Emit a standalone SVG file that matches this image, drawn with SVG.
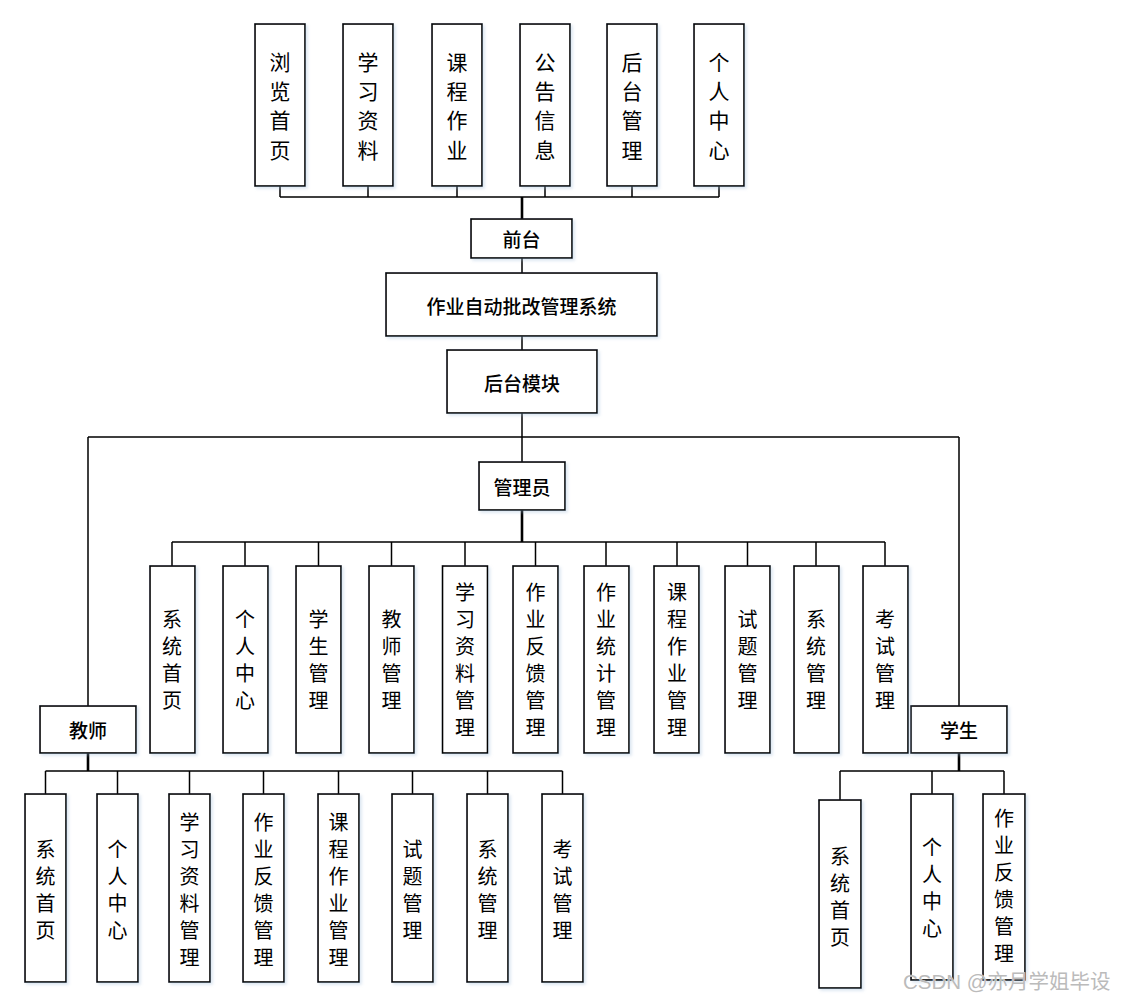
<svg xmlns="http://www.w3.org/2000/svg" width="1121" height="997" viewBox="0 0 1121 997">
<defs>
<filter id="sh" x="-20%" y="-20%" width="140%" height="140%">
<feDropShadow dx="2" dy="2" stdDeviation="1.5" flood-color="#9bb8d8" flood-opacity="0.35"/>
</filter>
<style>
.b{fill:#fff;stroke:#000;stroke-width:1.6;filter:url(#sh)}
.c{fill:none;stroke:#000;stroke-width:1.5}
.t{stroke:#000;stroke-width:2.6;fill:none}
.h{font-family:"Noto Sans CJK SC","Microsoft YaHei",sans-serif;font-size:19px;font-weight:500;fill:#000;text-anchor:middle;dominant-baseline:central}
.v{font-family:"Noto Sans CJK SC",sans-serif;font-size:20px;fill:#000;text-anchor:middle;dominant-baseline:central}
.vt{font-family:"Noto Sans CJK SC",sans-serif;font-size:21px;fill:#000;text-anchor:middle;dominant-baseline:central}
.wm{font-family:"Liberation Sans","Noto Sans CJK SC",sans-serif;font-size:20.5px;fill:#bbb;stroke:#fff;stroke-width:0.6;paint-order:stroke;text-anchor:start;dominant-baseline:central}
</style>
</defs>
<rect width="1121" height="997" fill="#fff"/>

<g id="connectors">
<path class="c" d="M280 186V197M368 186V197M457 186V197M545 186V197M632 186V197M719 186V197M280 197H719"/>
<path class="t" d="M522 197V219"/>
<path class="c" d="M522 258V273M522 336V350M522 413V462"/>
<path class="c" d="M88 437H959M88 437V706M959 437V706"/>
<path class="t" d="M522 510V542"/>
<path class="c" d="M172 542H885M172 542V566M245 542V566M318.5 542V566M391.5 542V566M465 542V566M535.5 542V566M606 542V566M677 542V566M747.5 542V566M816 542V566M885 542V566"/>
<path class="t" d="M88 753V771"/>
<path class="c" d="M45.5 771H562.5M45.5 771V794M117.5 771V794M189.5 771V794M263.5 771V794M338.5 771V794M412.5 771V794M487.5 771V794M562.5 771V794"/>
<path class="t" d="M959 753V771"/>
<path class="c" d="M840 771H1004M840 771V800M932 771V794M1004 771V794"/>
</g>

<g id="browse"><rect class="b" x="255" y="24" width="50" height="162"/><text class="vt"><tspan x="280" y="60.5">浏</tspan><tspan x="280" y="89.8">览</tspan><tspan x="280" y="119.2">首</tspan><tspan x="280" y="148.5">页</tspan></text></g>
<g id="study"><rect class="b" x="343" y="24" width="50" height="162"/><text class="vt"><tspan x="368" y="60.5">学</tspan><tspan x="368" y="89.8">习</tspan><tspan x="368" y="119.2">资</tspan><tspan x="368" y="148.5">料</tspan></text></g>
<g id="course"><rect class="b" x="432" y="24" width="50" height="162"/><text class="vt"><tspan x="457" y="60.5">课</tspan><tspan x="457" y="89.8">程</tspan><tspan x="457" y="119.2">作</tspan><tspan x="457" y="148.5">业</tspan></text></g>
<g id="notice"><rect class="b" x="520" y="24" width="50" height="162"/><text class="vt"><tspan x="545" y="60.5">公</tspan><tspan x="545" y="89.8">告</tspan><tspan x="545" y="119.2">信</tspan><tspan x="545" y="148.5">息</tspan></text></g>
<g id="backend"><rect class="b" x="607" y="24" width="50" height="162"/><text class="vt"><tspan x="632" y="60.5">后</tspan><tspan x="632" y="89.8">台</tspan><tspan x="632" y="119.2">管</tspan><tspan x="632" y="148.5">理</tspan></text></g>
<g id="personal"><rect class="b" x="694" y="24" width="50" height="162"/><text class="vt"><tspan x="719" y="60.5">个</tspan><tspan x="719" y="89.8">人</tspan><tspan x="719" y="119.2">中</tspan><tspan x="719" y="148.5">心</tspan></text></g>

<g id="front"><rect class="b" x="471" y="219" width="101" height="39"/><text class="h" x="521.5" y="238.5">前台</text></g>
<g id="system"><rect class="b" x="386" y="273" width="271" height="63"/><text class="h" x="521.5" y="305">作业自动批改管理系统</text></g>
<g id="backmodule"><rect class="b" x="447" y="350" width="150" height="63"/><text class="h" x="522" y="382">后台模块</text></g>
<g id="admin"><rect class="b" x="479" y="462" width="86" height="48"/><text class="h" x="522" y="486">管理员</text></g>
<g id="teacher"><rect class="b" x="40" y="706" width="96" height="47"/><text class="h" x="88" y="729.5">教师</text></g>
<g id="student"><rect class="b" x="911" y="706" width="96" height="47"/><text class="h" x="959" y="729.5">学生</text></g>

<g id="a1"><rect class="b" x="150" y="566" width="45" height="187"/><text class="v"><tspan x="172" y="618">系</tspan><tspan x="172" y="645">统</tspan><tspan x="172" y="672">首</tspan><tspan x="172" y="699">页</tspan></text></g>
<g id="a2"><rect class="b" x="223" y="566" width="45" height="187"/><text class="v"><tspan x="245" y="618">个</tspan><tspan x="245" y="645">人</tspan><tspan x="245" y="672">中</tspan><tspan x="245" y="699">心</tspan></text></g>
<g id="a3"><rect class="b" x="296" y="566" width="45" height="187"/><text class="v"><tspan x="318.5" y="618">学</tspan><tspan x="318.5" y="645">生</tspan><tspan x="318.5" y="672">管</tspan><tspan x="318.5" y="699">理</tspan></text></g>
<g id="a4"><rect class="b" x="369" y="566" width="45" height="187"/><text class="v"><tspan x="391.5" y="618">教</tspan><tspan x="391.5" y="645">师</tspan><tspan x="391.5" y="672">管</tspan><tspan x="391.5" y="699">理</tspan></text></g>
<g id="a5"><rect class="b" x="442.5" y="566" width="45" height="187"/><text class="v"><tspan x="465" y="591">学</tspan><tspan x="465" y="618">习</tspan><tspan x="465" y="645">资</tspan><tspan x="465" y="672">料</tspan><tspan x="465" y="699">管</tspan><tspan x="465" y="726">理</tspan></text></g>
<g id="a6"><rect class="b" x="513" y="566" width="45" height="187"/><text class="v"><tspan x="535.5" y="591">作</tspan><tspan x="535.5" y="618">业</tspan><tspan x="535.5" y="645">反</tspan><tspan x="535.5" y="672">馈</tspan><tspan x="535.5" y="699">管</tspan><tspan x="535.5" y="726">理</tspan></text></g>
<g id="a7"><rect class="b" x="584" y="566" width="45" height="187"/><text class="v"><tspan x="606" y="591">作</tspan><tspan x="606" y="618">业</tspan><tspan x="606" y="645">统</tspan><tspan x="606" y="672">计</tspan><tspan x="606" y="699">管</tspan><tspan x="606" y="726">理</tspan></text></g>
<g id="a8"><rect class="b" x="654" y="566" width="45" height="187"/><text class="v"><tspan x="677" y="591">课</tspan><tspan x="677" y="618">程</tspan><tspan x="677" y="645">作</tspan><tspan x="677" y="672">业</tspan><tspan x="677" y="699">管</tspan><tspan x="677" y="726">理</tspan></text></g>
<g id="a9"><rect class="b" x="725" y="566" width="45" height="187"/><text class="v"><tspan x="747.5" y="618">试</tspan><tspan x="747.5" y="645">题</tspan><tspan x="747.5" y="672">管</tspan><tspan x="747.5" y="699">理</tspan></text></g>
<g id="a10"><rect class="b" x="794" y="566" width="45" height="187"/><text class="v"><tspan x="816" y="618">系</tspan><tspan x="816" y="645">统</tspan><tspan x="816" y="672">管</tspan><tspan x="816" y="699">理</tspan></text></g>
<g id="a11"><rect class="b" x="863" y="566" width="45" height="187"/><text class="v"><tspan x="885" y="618">考</tspan><tspan x="885" y="645">试</tspan><tspan x="885" y="672">管</tspan><tspan x="885" y="699">理</tspan></text></g>

<g id="t1"><rect class="b" x="25" y="794" width="41" height="188"/><text class="v"><tspan x="45.5" y="847.5">系</tspan><tspan x="45.5" y="874.5">统</tspan><tspan x="45.5" y="901.5">首</tspan><tspan x="45.5" y="928.5">页</tspan></text></g>
<g id="t2"><rect class="b" x="97" y="794" width="41" height="188"/><text class="v"><tspan x="117.5" y="847.5">个</tspan><tspan x="117.5" y="874.5">人</tspan><tspan x="117.5" y="901.5">中</tspan><tspan x="117.5" y="928.5">心</tspan></text></g>
<g id="t3"><rect class="b" x="169" y="794" width="41" height="188"/><text class="v"><tspan x="189.5" y="820.5">学</tspan><tspan x="189.5" y="847.5">习</tspan><tspan x="189.5" y="874.5">资</tspan><tspan x="189.5" y="901.5">料</tspan><tspan x="189.5" y="928.5">管</tspan><tspan x="189.5" y="955.5">理</tspan></text></g>
<g id="t4"><rect class="b" x="243" y="794" width="41" height="188"/><text class="v"><tspan x="263.5" y="820.5">作</tspan><tspan x="263.5" y="847.5">业</tspan><tspan x="263.5" y="874.5">反</tspan><tspan x="263.5" y="901.5">馈</tspan><tspan x="263.5" y="928.5">管</tspan><tspan x="263.5" y="955.5">理</tspan></text></g>
<g id="t5"><rect class="b" x="318" y="794" width="41" height="188"/><text class="v"><tspan x="338.5" y="820.5">课</tspan><tspan x="338.5" y="847.5">程</tspan><tspan x="338.5" y="874.5">作</tspan><tspan x="338.5" y="901.5">业</tspan><tspan x="338.5" y="928.5">管</tspan><tspan x="338.5" y="955.5">理</tspan></text></g>
<g id="t6"><rect class="b" x="392" y="794" width="41" height="188"/><text class="v"><tspan x="412.5" y="847.5">试</tspan><tspan x="412.5" y="874.5">题</tspan><tspan x="412.5" y="901.5">管</tspan><tspan x="412.5" y="928.5">理</tspan></text></g>
<g id="t7"><rect class="b" x="467" y="794" width="41" height="188"/><text class="v"><tspan x="487.5" y="847.5">系</tspan><tspan x="487.5" y="874.5">统</tspan><tspan x="487.5" y="901.5">管</tspan><tspan x="487.5" y="928.5">理</tspan></text></g>
<g id="t8"><rect class="b" x="542" y="794" width="41" height="188"/><text class="v"><tspan x="562.5" y="847.5">考</tspan><tspan x="562.5" y="874.5">试</tspan><tspan x="562.5" y="901.5">管</tspan><tspan x="562.5" y="928.5">理</tspan></text></g>

<g id="s1"><rect class="b" x="819" y="800" width="42" height="188"/><text class="v"><tspan x="840" y="854.5">系</tspan><tspan x="840" y="881.5">统</tspan><tspan x="840" y="908.5">首</tspan><tspan x="840" y="935.5">页</tspan></text></g>
<g id="s2"><rect class="b" x="911" y="794" width="42" height="186"/><text class="v"><tspan x="932" y="846">个</tspan><tspan x="932" y="873">人</tspan><tspan x="932" y="900">中</tspan><tspan x="932" y="927">心</tspan></text></g>
<g id="s3"><rect class="b" x="983" y="794" width="42" height="186"/><text class="v"><tspan x="1004" y="817">作</tspan><tspan x="1004" y="844">业</tspan><tspan x="1004" y="871">反</tspan><tspan x="1004" y="898">馈</tspan><tspan x="1004" y="925">管</tspan><tspan x="1004" y="952">理</tspan></text></g>

<text class="wm" x="903" y="981">CSDN @亦月学姐毕设</text>
</svg>
